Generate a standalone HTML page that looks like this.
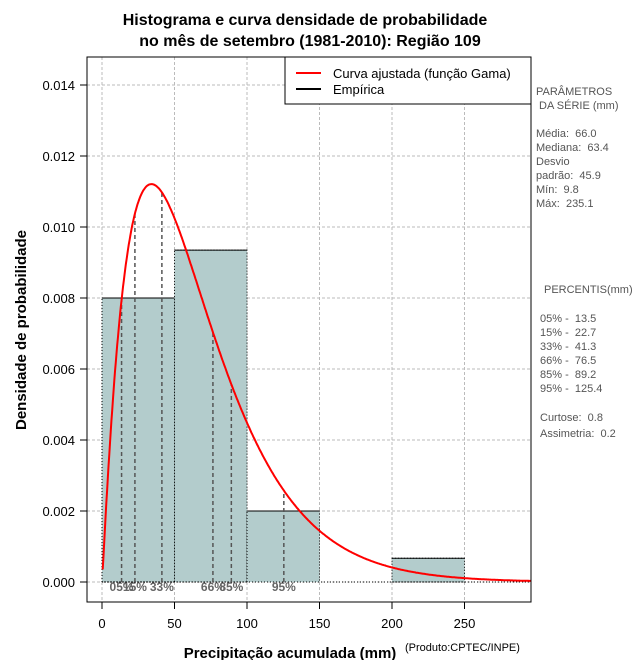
<!DOCTYPE html>
<html><head><meta charset="utf-8"><style>
body{margin:0;background:#fff;}
svg{display:block;font-family:"Liberation Sans",sans-serif;}
text{white-space:pre;}
</style></head><body>
<svg id="chart" width="640" height="660" xmlns="http://www.w3.org/2000/svg">
<text x="305" y="25" text-anchor="middle" font-size="16" font-weight="bold">Histograma e curva densidade de probabilidade</text>
<text x="310" y="46" text-anchor="middle" font-size="16" font-weight="bold">no mês de setembro (1981-2010): Região 109</text>
<g id="grid"></g>
<g id="bars"></g>
<g id="pct"></g>
<path id="curve" fill="none" stroke="#ff0000" stroke-width="2"/>
<rect x="87" y="57" width="444" height="545" fill="none" stroke="#000"/>
<g id="axes"></g>
<text x="290" y="658" text-anchor="middle" font-size="15" font-weight="bold">Precipitação acumulada (mm)</text>
<text x="405" y="651" font-size="11">(Produto:CPTEC/INPE)</text>
<text transform="translate(26,330) rotate(-90)" text-anchor="middle" font-size="15" font-weight="bold">Densidade de probabilidade</text>
<g>
<rect x="285" y="57" width="246" height="47" fill="#fff" stroke="#000"/>
<line x1="296" y1="73" x2="321" y2="73" stroke="#ff0000" stroke-width="2"/>
<text x="333" y="78" font-size="13">Curva ajustada (função Gama)</text>
<line x1="296" y1="89" x2="321" y2="89" stroke="#000" stroke-width="2"/>
<text x="333" y="94" font-size="13">Empírica</text>
</g>
<g font-size="11" fill="#555">
<text x="536" y="95">PARÂMETROS</text><text x="536" y="109"> DA SÉRIE (mm)</text>
<text x="536" y="137">Média:  66.0</text><text x="536" y="151">Mediana:  63.4</text>
<text x="536" y="165">Desvio</text><text x="536" y="179">padrão:  45.9</text>
<text x="536" y="193">Mín:  9.8</text><text x="536" y="207">Máx:  235.1</text>
<text x="544" y="293">PERCENTIS(mm)</text>
<text x="540" y="322">05% -  13.5</text><text x="540" y="336">15% -  22.7</text>
<text x="540" y="350">33% -  41.3</text><text x="540" y="364">66% -  76.5</text>
<text x="540" y="378">85% -  89.2</text><text x="540" y="392">95% -  125.4</text>
<text x="540" y="421">Curtose:  0.8</text><text x="540" y="437">Assimetria:  0.2</text>
</g>
</svg>
<script>
const binEdges=[0,50,100,150,200,250];
const binDensity=[0.008,0.00935,0.002,0,0.00067];
const xTicks=[0,50,100,150,200,250];
const yTicks=[0,0.002,0.004,0.006,0.008,0.010,0.012,0.014];
const yTickLabels=["0.000","0.002","0.004","0.006","0.008","0.010","0.012","0.014"];
const pctValues=[13.5,22.7,41.3,76.5,89.2,125.4];
const pctLabels=["05%","15%","33%","66%","85%","95%"];
const seriesMean=66.0, seriesSd=45.9;
const NS="http://www.w3.org/2000/svg";
const X=v=>102+v*1.45, Y=v=>582-v*35500;
function mk(t,a,p){const e=document.createElementNS(NS,t);for(const k in a)e.setAttribute(k,a[k]);p.appendChild(e);return e;}
const k=(seriesMean/seriesSd)**2, th=seriesSd*seriesSd/seriesMean;
function lg(z){const c=[76.18009172947146,-86.50532032941677,24.01409824083091,-1.231739572450155,0.1208650973866179e-2,-0.5395239384953e-5];let x=z,y=z,t=x+5.5;t-=(x+0.5)*Math.log(t);let s=1.000000000190015;for(const q of c)s+=q/++y;return -t+Math.log(2.5066282746310005*s/x);}
const gd=x=>x<=0?0:Math.exp((k-1)*Math.log(x)-x/th-lg(k)-k*Math.log(th));
const grid=document.getElementById('grid');
xTicks.forEach(t=>{const l=mk('line',{x1:X(t),x2:X(t),y1:57,y2:602,stroke:'#bbb','stroke-dasharray':'3,2'},grid);});
yTicks.forEach(t=>{const l=mk('line',{x1:87,x2:531,y1:Y(t),y2:Y(t),stroke:'#bbb','stroke-dasharray':'3,2'},grid);});
const bars=document.getElementById('bars');
binDensity.forEach((d,i)=>{if(d<=0)return;const r=mk('rect',{x:X(binEdges[i]),y:Y(d),width:X(binEdges[i+1])-X(binEdges[i]),height:Y(0)-Y(d),fill:'#b3cccc',stroke:'#000','stroke-dasharray':'1,2'},bars);
const tl=mk('line',{x1:X(binEdges[i]),x2:X(binEdges[i+1]),y1:Y(d),y2:Y(d),stroke:'#000'},bars);});
const bl=mk('line',{x1:X(0),x2:531,y1:Y(0),y2:Y(0),stroke:'#000','stroke-dasharray':'1,2'},bars);
const pct=document.getElementById('pct');
pctValues.forEach((v,i)=>{const l=mk('line',{x1:X(v),x2:X(v),y1:Y(0),y2:Y(gd(v)),stroke:'#555','stroke-width':1.5,'stroke-dasharray':'4,3'},pct);
const t=mk('text',{x:X(v),y:Y(0)+9,'text-anchor':'middle','font-size':12,'font-weight':'bold',fill:'#666'},pct);t.textContent=pctLabels[i];});
let d='';for(let x=0.5;x<=296;x+=0.5){d+=(d?'L':'M')+X(x).toFixed(1)+','+Y(gd(x)).toFixed(1);}
document.getElementById('curve').setAttribute('d',d);
const ax=document.getElementById('axes');
xTicks.forEach(t=>{mk('line',{x1:X(t),x2:X(t),y1:602,y2:609,stroke:'#000'},ax);const e=mk('text',{x:X(t),y:628,'text-anchor':'middle','font-size':13},ax);e.textContent=t;});
yTicks.forEach((t,i)=>{mk('line',{x1:80,x2:87,y1:Y(t),y2:Y(t),stroke:'#000'},ax);const e=mk('text',{x:75,y:Y(t)+5,'text-anchor':'end','font-size':13},ax);e.textContent=yTickLabels[i];});
</script>
</body></html>
